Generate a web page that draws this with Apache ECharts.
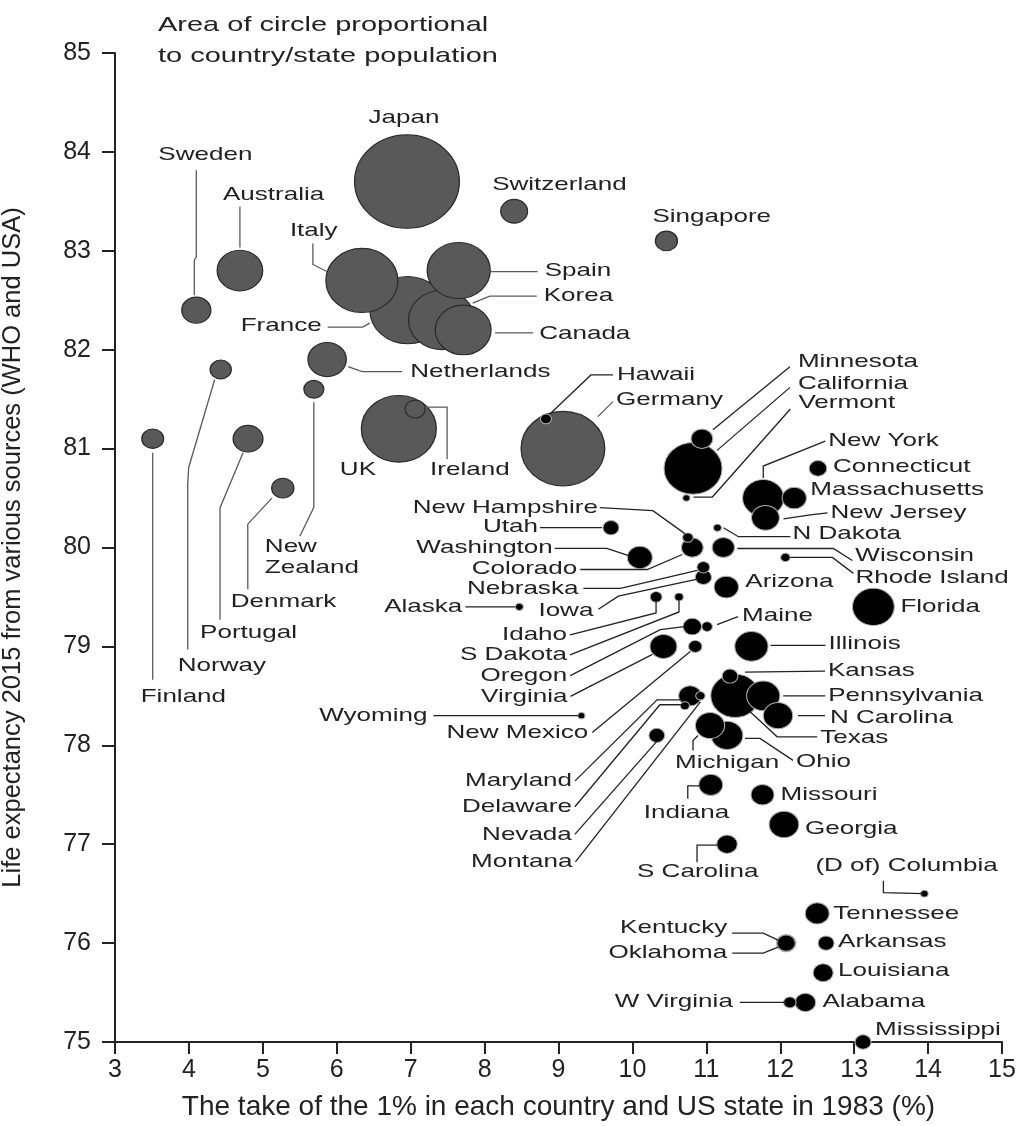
<!DOCTYPE html>
<html><head><meta charset="utf-8">
<script src="https://cdn.jsdelivr.net/npm/echarts@6/dist/echarts.min.js"></script>
<style>html,body{margin:0;padding:0;background:#fff}#c{width:1021px;height:1126px}</style>
</head><body><div id="c"></div>
<script>
const names = ['Japan','Switzerland','Singapore','Sweden','Australia','Italy','Spain','France','Korea','Canada','Netherlands','Norway','New\nZealand','Finland','Portugal','Denmark','UK','Ireland','Germany',
'Hawaii','Minnesota','California','Vermont','New York','Connecticut','Massachusetts','New Jersey','N Dakota','Wisconsin','Rhode Island','Florida','Arizona','Maine','Illinois','Kansas','Pennsylvania','N Carolina','Texas','Ohio','Michigan','Indiana','Missouri','Georgia','S Carolina','(D of) Columbia','Tennessee','Kentucky','Oklahoma','Arkansas','Louisiana','W Virginia','Alabama','Mississippi',
'New Hampshire','Utah','Washington','Colorado','Nebraska','Alaska','Iowa','Idaho','S Dakota','Oregon','Virginia','Wyoming','New Mexico','Maryland','Delaware','Nevada','Montana'];
const topShare = [6.95,8.40,10.46,4.10,4.69,6.34,7.65,6.96,7.42,7.71,5.87,4.43,5.69,3.51,4.80,5.27,6.84,7.06,9.06,
8.83,10.94,10.82,10.73,11.77,12.51,12.19,11.80,11.15,11.23,12.07,13.26,11.27,11.01,11.61,11.32,11.77,11.97,11.39,11.28,11.05,11.06,11.76,12.05,11.28,13.95,12.50,12.08,12.08,12.62,12.58,12.13,12.34,13.12,
10.75,9.71,10.10,10.81,10.96,8.47,10.96,10.32,10.63,10.81,10.42,9.31,10.85,10.78,10.71,10.33,10.92];
const lifeExp = [83.7,83.4,83.1,82.4,82.8,82.7,82.8,82.4,82.3,82.2,81.9,81.8,81.6,81.1,81.1,80.6,81.2,81.4,81.0,
81.3,81.1,80.8,80.5,80.5,80.8,80.5,80.3,80.2,80.0,79.9,79.4,79.6,79.2,79.0,78.7,78.5,78.3,78.5,78.1,78.2,77.6,77.5,77.2,77.0,76.5,76.3,76.0,76.0,76.0,75.7,75.4,75.4,75.0,
80.1,80.2,79.9,80.0,79.8,79.4,79.7,79.5,79.5,79.2,79.0,78.3,79.0,78.5,78.4,78.1,78.5];
const population = [127,8.3,5.6,9.8,24,60,46,66,51,36,17,5.2,4.6,5.5,10.3,5.7,65,4.7,81,
1.4,5.5,39,0.63,19.8,3.6,6.8,9,0.75,5.8,1.06,20.3,6.9,1.33,12.8,2.9,12.8,10,27.5,11.6,9.9,6.6,6.1,10.2,4.9,0.67,6.6,4.4,3.9,3.0,4.7,1.8,4.9,3.0,
1.3,3.0,7.2,5.5,1.9,0.74,3.1,1.65,0.86,4.0,8.4,0.58,2.1,6.0,0.95,2.9,1.03];
const countryCount = 19;
const xTicks = [3,15,1];
const yTicks = [75,85,1];

// annotation layout: label offset (px from circle centre), alignment, leader polyline offsets
const labelLayout = [
 [-3,-64,'center',null],
 [-22,-26,'left',null],
 [-14,-24,'left',null],
 [-38,-155,'left',[[0,-140],[0,-53],[-2,-50],[-2,-15]]],
 [-17,-76,'left',[[0,-64],[0,-23]]],
 [-72,-50,'left',[[-49,-37],[-49,-16],[-35,-9]]],
 [86,0,'left',[[32,1],[79,1]]],
 [-86,16,'right',[[-80,17],[-45,17],[-38,13]]],
 [102,-24,'left',[[31,-17],[48,-24],[95,-24]]],
 [76,4,'left',[[32,3],[70,3]]],
 [83,12,'left',[[21,7],[35,12],[75,12]]],
 [-43,296,'left',[[-6,10],[-32,98],[-33,115],[-33,280]]],
 [-49,168,'left',[[0,13],[0,118],[-14,147]]],
 [-12,258,'left',[[0,14],[0,241]]],
 [-48,194,'left',[[-5,14],[-28,69],[-28,181]]],
 [-52,114,'left',[[-11,10],[-35,36],[-35,101]]],
 [-59,41,'left',null],
 [15,61,'left',[[10,-2],[32,-2],[32,50]]],
 [53,-49,'left',[[35,-32],[50,-47]]],
 [71,-44,'left',[[4,-5],[45,-44],[67,-44]]],
 [96,-77,'left',[[11,-9],[88,-72]]],
 [105,-85,'left',[[24,-18],[97,-81]]],
 [112,-95,'left',[[7,-1],[26,-1],[104,-89]]],
 [65,-57,'left',[[0,-20],[0,-32],[62,-57]]],
 [15,-2,'left',null],
 [16,-8,'left',null],
 [65,-5,'left',[[18,1],[45,-3],[62,-5]]],
 [75,6,'left',[[6,0],[21,9],[73,9]]],
 [132,8,'left',[[14,1],[110,1],[129,13]]],
 [70,20,'left',[[5,0],[47,0],[68,16]]],
 [27,0,'left',null],
 [19,-5,'left',null],
 [35,-11,'left',[[10,-2],[31,-10]]],
 [77,-3,'left',[[19,-1],[74,-1]]],
 [98,-5,'left',[[15,-4],[95,-5]]],
 [65,0,'left',[[20,0],[62,0]]],
 [52,2,'left',[[20,0],[47,0]]],
 [85,42,'left',[[15,16],[42,41],[82,41]]],
 [69,26,'left',[[18,3],[33,3],[66,25]]],
 [-35,37,'left',[[-12,10],[-17,15],[-17,25]]],
 [-67,28,'left',[[-11,1],[-23,1],[-23,14]]],
 [18,0,'left',null],
 [21,4,'left',null],
 [-90,28,'left',[[-9,1],[-30,1],[-30,18]]],
 [-109,-28,'left',[[-1,0],[-41,-1],[-41,-13]]],
 [16,0,'left',null],
 [-59,-15,'right',[[-8,-3],[-23,-10],[-54,-10]]],
 [-59,10,'right',[[-8,4],[-23,10],[-54,10]]],
 [12,-1,'left',null],
 [15,-2,'left',null],
 [-57,-1,'right',[[-50,0],[-3,0]]],
 [17,-1,'left',null],
 [12,-12,'left',null],
 [-90,-30,'right',[[-3,-4],[-35,-27],[-88,-30]]],
 [-73,-1,'right',[[-71,0],[-9,0]]],
 [-87,-10,'right',[[-85,-9],[-33,-9],[-12,-2]]],
 [-115,21,'right',[[-112,22],[-45,22],[-10,7]]],
 [-125,21,'right',[[-120,21],[-83,21],[-6,3]]],
 [-57,0,'right',[[-54,0],[-4,0]]],
 [-110,34,'right',[[-105,32],[-85,19],[-6,2]]],
 [-89,38,'right',[[-86,38],[0,16],[0,4]]],
 [-112,58,'right',[[-109,58],[0,15],[0,3]]],
 [-125,49,'right',[[-122,49],[-32,3],[-8,0]]],
 [-96,50,'right',[[-93,50],[-11,8]]],
 [-154,0,'right',[[-148,0],[-3,0]]],
 [-107,86,'right',[[-103,86],[-5,5]]],
 [-118,85,'right',[[-115,85],[-33,4],[-10,4]]],
 [-113,101,'right',[[-110,101],[-25,-1],[-4,-1]]],
 [-85,99,'right',[[-82,99],[0,6]]],
 [-128,166,'right',[[-125,166],[0,6]]]
];

const FONT = '"Liberation Sans", Arial, sans-serif';
const K = 9.3;
function bubbleSize(v){ const d = K*Math.sqrt(v[2]); return [d, d*0.89]; }

const idx = names.map((n,i)=>i);
const countryData = idx.filter(i=>i<countryCount).sort((a,b)=>population[b]-population[a])
  .map(i=>({name:names[i], value:[topShare[i], lifeExp[i], population[i]]}));
const stateData = idx.filter(i=>i>=countryCount).sort((a,b)=>population[b]-population[a])
  .map(i=>({name:names[i], value:[topShare[i], lifeExp[i], population[i]]}));
const annData = idx.map(i=>[topShare[i], lifeExp[i], i]);

const chart = echarts.init(document.getElementById('c'), null, {renderer:'canvas'});
chart.setOption({
  animation:false,
  backgroundColor:'#fff',
  textStyle:{fontFamily:FONT},
  grid:{left:115,right:19,top:53,bottom:84,containLabel:false,outerBoundsMode:'none'},
  graphic:[{type:'text', x:158, y:10, scaleX:1.38, z:10,
    style:{text:'Area of circle proportional\nto country/state population', font:'21px '+FONT, fill:'#222', lineHeight:31}}],
  xAxis:{type:'value', min:xTicks[0], max:xTicks[1], interval:xTicks[2],
    axisLine:{show:true, onZero:false, lineStyle:{color:'#222', width:2}},
    axisTick:{show:true, length:12, lineStyle:{color:'#222', width:2}},
    axisLabel:{fontSize:25, color:'#222', margin:16},
    splitLine:{show:false},
    name:'The take of the 1% in each country and US state in 1983 (%)',
    nameLocation:'middle', nameGap:51, nameTextStyle:{fontSize:28, color:'#222'}},
  yAxis:{type:'value', min:yTicks[0], max:yTicks[1], interval:yTicks[2],
    axisLine:{show:true, onZero:false, lineStyle:{color:'#222', width:2}},
    axisTick:{show:true, length:13, lineStyle:{color:'#222', width:2}},
    axisLabel:{fontSize:25, color:'#222', margin:24},
    splitLine:{show:false},
    name:'Life expectancy 2015 from various sources (WHO and USA)',
    nameLocation:'middle', nameGap:89, nameRotate:90, nameTextStyle:{fontSize:25.5, color:'#222'}},
  series:[
    {type:'scatter', name:'Countries', z:2, data:countryData, symbolSize:bubbleSize,
      itemStyle:{color:'#595959', borderColor:'#2b2b2b', borderWidth:1.2, opacity:1}},
    {type:'scatter', name:'US states', z:3, data:stateData, symbolSize:bubbleSize,
      itemStyle:{color:'#000', borderColor:'#b0b0b0', borderWidth:1, opacity:1}},
    {type:'custom', name:'labels', z:5, clip:false, data:annData,
      renderItem:function(params, api){
        const p = api.coord([api.value(0), api.value(1)]);
        const i = api.value(2);
        const L = labelLayout[i];
        const children = [];
        if (L[3]) {
          children.push({type:'polyline', shape:{points:L[3].map(o=>[p[0]+o[0], p[1]+o[1]])},
            style:{stroke: i<countryCount ? '#5a5a5a' : '#222', lineWidth:1.3, fill:null}});
        }
        children.push({type:'text', x:p[0]+L[0], y:p[1]+L[1], scaleX:1.37,
          style:{text:names[i], font:'19px '+FONT, fill:'#222', align:L[2], verticalAlign:'middle', lineHeight:21}});
        return {type:'group', children:children};
      }}
  ]
});
</script></body></html>
